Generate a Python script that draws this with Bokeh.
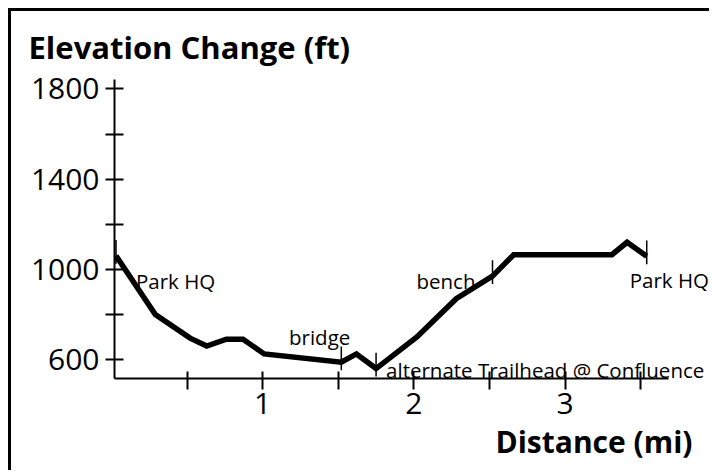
from bokeh.plotting import figure
from bokeh.models import FixedTicker, Range1d, Title, Label
from bokeh.embed import file_html
from bokeh.resources import INLINE

# ---- data ----
dist = [0.03, 0.29, 0.52, 0.63, 0.76, 0.87, 1.01, 1.52, 1.62, 1.75, 2.02, 2.28, 2.52, 2.66, 3.31, 3.41, 3.54]
elev = [1060, 800, 695, 660, 690, 690, 625, 588, 625, 560, 700, 870, 970, 1065, 1065, 1120, 1058]

ann_dist = [0.03, 1.52, 1.75, 2.52, 3.54]
ann_elev = [1060, 588, 560, 970, 1058]
ann_text = ["Park HQ", "bridge", "alternate Trailhead @ Confluence", "bench", "Park HQ"]

x_major = [1, 2, 3]
x_minor = [0.5, 1.5, 2.5, 3.5]
y_major = [600, 1000, 1400, 1800]
y_minor = [800, 1200, 1600]

# ---- styles ----
ann_align = ["left", "right", "left", "right", "left"]
ann_xoff = [20, 9, 10, -17, -17]
ann_yoff = [-25, 25, -1, -5, -24]   # positive = up

FONT = "Open Sans"

p = figure(width=701, height=462, output_backend="svg", toolbar_location=None,
           x_range=Range1d(0.02, 3.975), y_range=Range1d(516, 1842),
           min_border_left=103, min_border_top=67, min_border_right=0, min_border_bottom=95,
           background_fill_color="white", border_fill_color="white")
p.styles = {"margin-left": "8px", "margin-top": "8px",
            "border-left": "3px solid black", "border-top": "3px solid black"}
p.outline_line_color = None
p.grid.visible = False

p.title.text = "Elevation Change (ft)"
p.title.align = "left"
p.title.offset = -86
p.title.standoff = 24
p.title.text_font = FONT
p.title.text_font_size = "31px"
p.title.text_font_style = "bold"
p.title.text_color = "black"

xt = Title(text="Distance (mi)", align="right", offset=20, standoff=5, text_font=FONT,
           text_font_size="30px", text_font_style="bold", text_color="black",
           text_line_height=1.3)
p.add_layout(xt, "below")

for ax in (p.xaxis[0], p.yaxis[0]):
    ax.axis_line_width = 2
    ax.axis_line_color = "black"
    ax.major_tick_line_width = 2
    ax.minor_tick_line_width = 2
    ax.major_tick_line_color = "black"
    ax.minor_tick_line_color = "black"
    ax.major_label_text_font = FONT
    ax.major_label_text_font_size = "30px"
    ax.major_label_text_color = "black"

p.xaxis.ticker = FixedTicker(ticks=x_major, minor_ticks=x_minor)
p.xaxis.bounds = (0.02, 3.685)
p.xaxis.major_tick_in = 7
p.xaxis.major_tick_out = 11
p.xaxis.minor_tick_in = 7
p.xaxis.minor_tick_out = 11
p.xaxis.major_label_standoff = 3

p.yaxis.ticker = FixedTicker(ticks=y_major, minor_ticks=y_minor)
p.yaxis.major_tick_in = 9
p.yaxis.major_tick_out = 9
p.yaxis.minor_tick_in = 9
p.yaxis.minor_tick_out = 9
p.yaxis.major_label_standoff = 6

p.line(dist, elev, line_color="black", line_width=5.5, line_join="miter")

p.segment(x0=ann_dist, y0=[e - 35 for e in ann_elev], x1=ann_dist, y1=[e + 70 for e in ann_elev],
          line_color="black", line_width=1.5)

for x, y, t, a, xo, yo in zip(ann_dist, ann_elev, ann_text, ann_align, ann_xoff, ann_yoff):
    p.add_layout(Label(x=x, y=y, text=t, text_align=a, x_offset=xo, y_offset=yo,
                       text_baseline="alphabetic", text_font=FONT, text_font_size="20.5px",
                       text_color="black"))

open("out.html", "w").write(file_html(p, INLINE))
